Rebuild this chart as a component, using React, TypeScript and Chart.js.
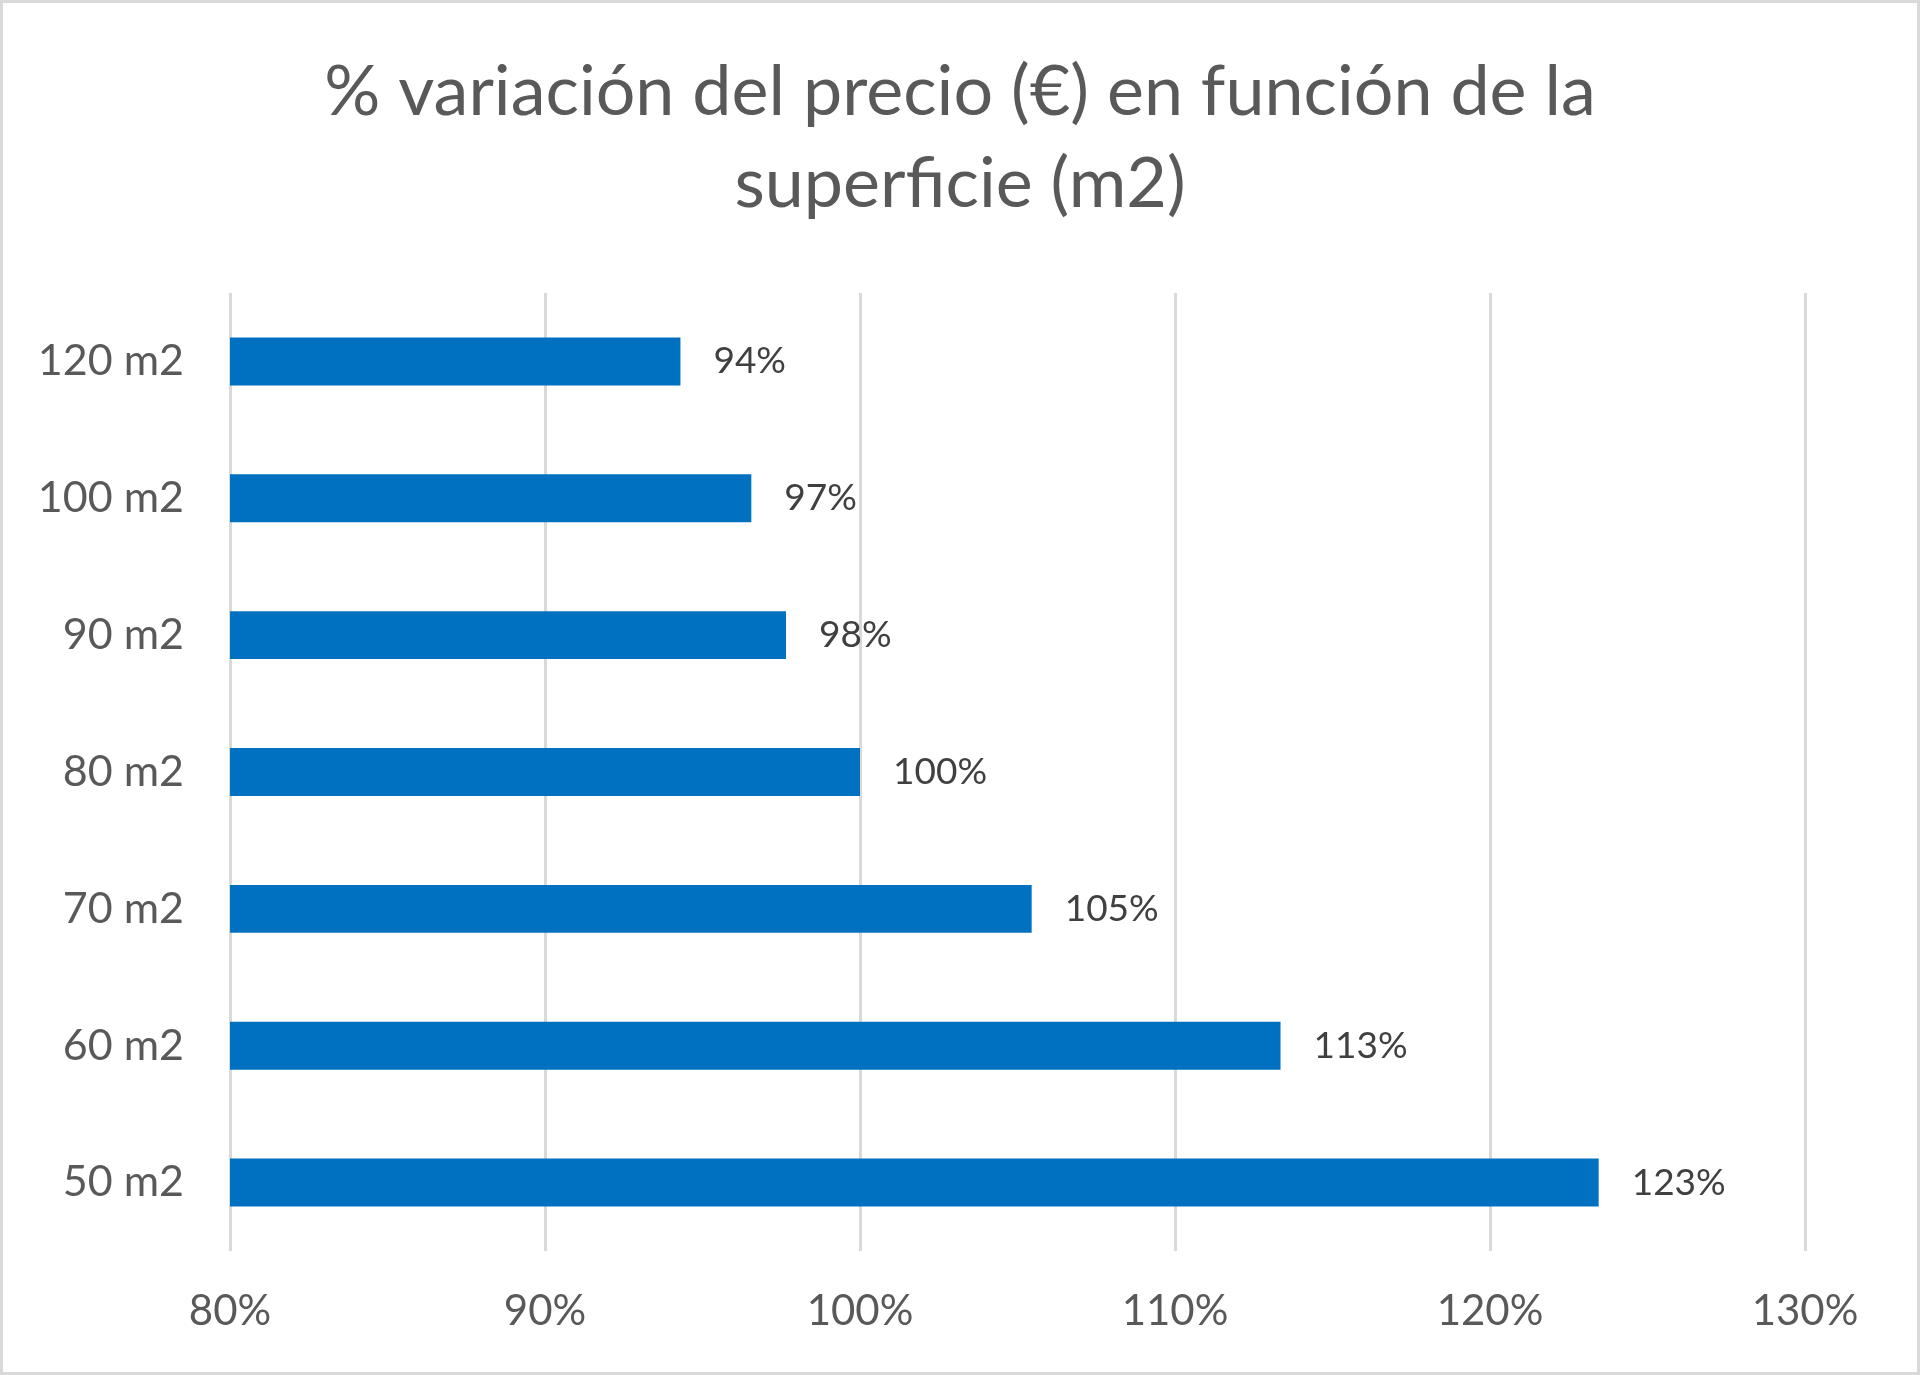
import { useEffect, useRef } from 'react'
import { Chart, registerables } from 'chart.js'

Chart.register(...registerables)

const categories = ['120 m2', '100 m2', '90 m2', '80 m2', '70 m2', '60 m2', '50 m2']
const variation = [94.3, 96.55, 97.65, 100.0, 105.45, 113.35, 123.45]
const titleLines = ['% variación del precio (€) en función de la', 'superficie (m2)']
const xTicks = [80, 90, 100, 110, 120, 130]

const FONT = 'Lato'

const barLabels = {
  id: 'barLabels',
  afterDatasetsDraw(chart: Chart) {
    const ctx = chart.ctx
    const meta = chart.getDatasetMeta(0)
    ctx.save()
    ctx.font = `37px ${FONT}`
    ctx.fillStyle = '#404040'
    ctx.textAlign = 'left'
    ctx.textBaseline = 'middle'
    meta.data.forEach((bar: any, i: number) => {
      const v = chart.data.datasets[0].data[i] as number
      ctx.fillText(`${Math.round(v)}%`, bar.x + 33, bar.y)
    })
    ctx.restore()
  },
}

export default function App() {
  const canvasRef = useRef<HTMLCanvasElement>(null)
  const chartRef = useRef<Chart | null>(null)

  useEffect(() => {
    const canvas = canvasRef.current
    if (!canvas) return
    const ctx = canvas.getContext('2d')
    if (!ctx) return

    if (chartRef.current) chartRef.current.destroy()

    chartRef.current = new Chart(ctx, {
      type: 'bar',
      data: {
        labels: categories,
        datasets: [
          {
            data: variation,
            backgroundColor: '#0070C0',
            borderWidth: 0,
            categoryPercentage: 1,
            barPercentage: 0.35,
          },
        ],
      },
      options: {
        indexAxis: 'y',
        animation: false,
        responsive: true,
        maintainAspectRatio: false,
        layout: { padding: 0 },
        plugins: {
          legend: { display: false },
          tooltip: { enabled: false },
          title: {
            display: true,
            text: titleLines,
            color: '#595959',
            font: { family: FONT, size: 70, weight: 'normal', lineHeight: 92 / 70 },
            padding: { top: 46, bottom: 63 },
          },
        },
        scales: {
          x: {
            min: xTicks[0],
            max: xTicks[xTicks.length - 1],
            afterBuildTicks: (scale: any) => {
              scale.ticks = xTicks.map((v) => ({ value: v }))
            },
            afterFit: (scale: any) => {
              scale.height = 124
            },
            grid: { color: '#D9D9D9', lineWidth: 3, drawTicks: false },
            border: { display: false },
            ticks: {
              color: '#595959',
              font: { family: FONT, size: 42 },
              padding: 35,
              callback: (v: any) => `${v}%`,
            },
          },
          y: {
            afterFit: (scale: any) => {
              scale.width = 230
            },
            grid: { display: false, drawTicks: false },
            border: { display: false },
            ticks: {
              color: '#595959',
              font: { family: FONT, size: 43 },
              padding: 46,
            },
          },
          // empty right-hand axis: reserves space so the plot ends where the reference does
          yRight: {
            type: 'category',
            position: 'right',
            afterFit: (scale: any) => {
              scale.width = 115
            },
            grid: { display: false, drawTicks: false },
            border: { display: false },
            ticks: { display: false },
          },
        },
      },
      plugins: [barLabels],
    })

    return () => {
      if (chartRef.current) {
        chartRef.current.destroy()
        chartRef.current = null
      }
    }
  }, [])

  return (
    <div style={{ position: 'absolute', left: 0, top: 0, width: 1920, height: 1375, background: '#fff' }}>
      <canvas ref={canvasRef} />
      <div
        style={{
          position: 'absolute',
          inset: 0,
          border: '3px solid #D9D9D9',
          pointerEvents: 'none',
        }}
      />
    </div>
  )
}
